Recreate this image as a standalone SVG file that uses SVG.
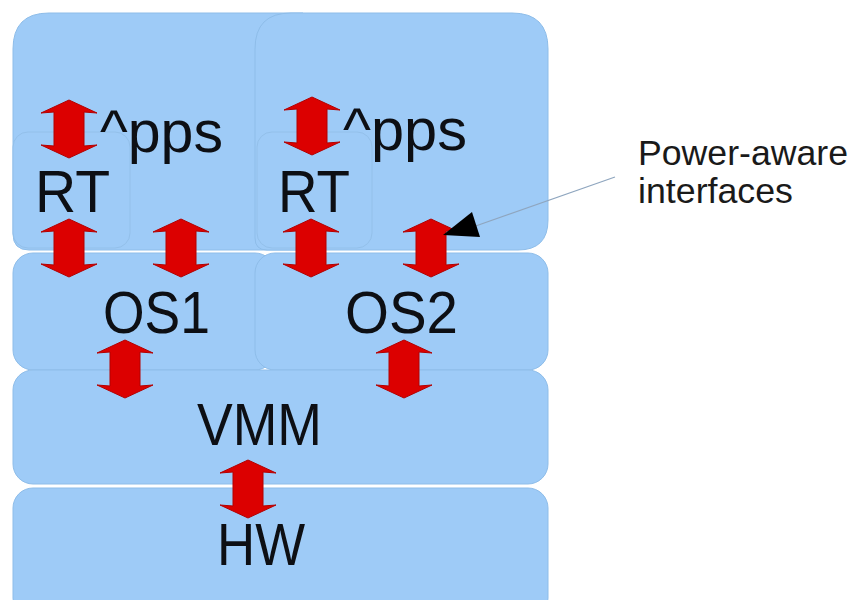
<svg xmlns="http://www.w3.org/2000/svg" width="854" height="600" viewBox="0 0 854 600">
  <style>
    .layer { fill: #9ecbf7; stroke: #8ebde9; stroke-width: 1; }
    .inner { fill: #9ecbf7; stroke: #93c0ea; stroke-width: 1; }
    .label { font-family: "Liberation Sans", Arial, sans-serif; font-size: 59px; fill: #0d0f14; }
    .note { font-family: "Liberation Sans", Arial, sans-serif; font-size: 35px; fill: #1a1a1a; }
    .iface { fill: #dc0000; stroke: #b30000; stroke-width: 1; }
  </style>
  <defs>
    <!-- double-headed vertical interface arrow, 58px long, centred on x=0 -->
    <path id="dbl" d="M0,0 L28,13 L15,12 L15,46 L28,45 L0,58 L-28,45 L-15,46 L-15,12 L-28,13 Z"/>
  </defs>
  <rect width="854" height="600" fill="#ffffff"/>

  <!-- Applications layer (two VMs) -->
  <g id="apps1">
    <path class="layer" d="M13,49 Q13,13 49,13 L303,13 L303,250 L29,250 Q13,250 13,234 Z"/>
  </g>
  <g id="apps2">
    <path class="layer" d="M255,49 Q255,13 291,13 L512,13 Q548,13 548,49 L548,220 Q548,250 518,250 L267,250 Q255,250 255,238 Z"/>
  </g>
  <g id="rt1">
    <rect class="inner" x="13" y="132" width="117" height="116" rx="15"/>
  </g>
  <g id="rt2">
    <rect class="inner" x="257" y="132" width="115" height="116" rx="15"/>
  </g>

  <!-- Guest operating systems -->
  <g id="os1">
    <rect class="layer" x="13" y="253" width="262" height="117" rx="20"/>
  </g>
  <g id="os2">
    <rect class="layer" x="255" y="253" width="293" height="117" rx="20"/>
  </g>

  <!-- Virtual machine monitor and hardware -->
  <g id="vmm">
    <rect class="layer" x="13" y="370" width="535" height="114" rx="20"/>
  </g>
  <g id="hw">
    <rect class="layer" x="13" y="488" width="535" height="130" rx="20"/>
  </g>

  <!-- Interfaces between layers -->
  <g id="connectors">
    <use href="#dbl" class="iface" transform="translate(69,100)"/>
    <use href="#dbl" class="iface" transform="translate(312,97)"/>
    <use href="#dbl" class="iface" transform="translate(69,219)"/>
    <use href="#dbl" class="iface" transform="translate(181,219)"/>
    <use href="#dbl" class="iface" transform="translate(311,219)"/>
    <use href="#dbl" class="iface" transform="translate(431,219)"/>
    <use href="#dbl" class="iface" transform="translate(125,340)"/>
    <use href="#dbl" class="iface" transform="translate(404,340)"/>
    <use href="#dbl" class="iface" transform="translate(248,460)"/>
    <!-- callout pointer -->
    <line x1="615" y1="177" x2="470" y2="228" stroke="#8fa6bf" stroke-width="1.2"/>
    <polygon points="472,212 480,237 443,235" fill="#000000"/>
  </g>

  <!-- Layer labels -->
  <text class="label" x="100" y="152" textLength="123" lengthAdjust="spacingAndGlyphs">^pps</text>
  <text class="label" x="343" y="150" textLength="124" lengthAdjust="spacingAndGlyphs">^pps</text>
  <text class="label" x="35" y="212" textLength="75" lengthAdjust="spacingAndGlyphs">RT</text>
  <text class="label" x="278" y="212" textLength="72" lengthAdjust="spacingAndGlyphs">RT</text>
  <text class="label" x="103" y="333" textLength="107" lengthAdjust="spacingAndGlyphs">OS1</text>
  <text class="label" x="345" y="333" textLength="113" lengthAdjust="spacingAndGlyphs">OS2</text>
  <text class="label" x="197" y="445" textLength="125" lengthAdjust="spacingAndGlyphs">VMM</text>
  <text class="label" x="217" y="565" textLength="88" lengthAdjust="spacingAndGlyphs">HW</text>

  <text class="note" x="638" y="165" textLength="210" lengthAdjust="spacingAndGlyphs">Power-aware</text>
  <text class="note" x="638" y="203" textLength="155" lengthAdjust="spacingAndGlyphs">interfaces</text>
</svg>
